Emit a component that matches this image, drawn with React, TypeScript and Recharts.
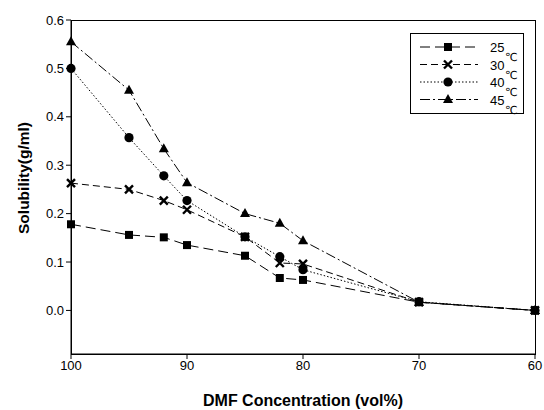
import React from 'react';
import { LineChart, Line, XAxis, YAxis, Legend } from 'recharts';

// DMF concentration (vol%) and solubility (g/ml) per temperature
const concentration = [100, 95, 92, 90, 85, 82, 80, 70, 60];
const sol25 = [0.178, 0.156, 0.151, 0.135, 0.113, 0.067, 0.063, 0.017, 0.0];
const sol30 = [0.263, 0.25, 0.227, 0.208, 0.152, 0.098, 0.096, 0.017, 0.0];
const sol40 = [0.5, 0.357, 0.278, 0.227, 0.152, 0.111, 0.084, 0.018, 0.0];
const sol45 = [0.555, 0.455, 0.334, 0.264, 0.2, 0.18, 0.144, 0.017, 0.0];
const xTicks = [100, 90, 80, 70, 60];
const yTicks = [0, 0.1, 0.2, 0.3, 0.4, 0.5, 0.6];

const data = concentration.map((c, i) => ({
  c,
  t25: sol25[i],
  t30: sol30[i],
  t40: sol40[i],
  t45: sol45[i],
}));

const FONT = '"Liberation Sans", Arial, sans-serif';
const W = 544;
const H = 410;
const M = { top: 20, right: 9, left: 71, bottom: 56 };

const Square = (props: any) => {
  const { cx, cy } = props;
  if (cx == null || cy == null) return null;
  return <rect x={cx - 4} y={cy - 4} width={8} height={8} fill="#000" />;
};
const Cross = (props: any) => {
  const { cx, cy } = props;
  if (cx == null || cy == null) return null;
  return (
    <path d={`M${cx - 4},${cy - 4}L${cx + 4},${cy + 4}M${cx + 4},${cy - 4}L${cx - 4},${cy + 4}`} stroke="#000" strokeWidth={2.4} />
  );
};
const Dot = (props: any) => {
  const { cx, cy } = props;
  if (cx == null || cy == null) return null;
  return <circle cx={cx} cy={cy} r={4.6} fill="#000" />;
};
const Tri = (props: any) => {
  const { cx, cy } = props;
  if (cx == null || cy == null) return null;
  return <path d={`M${cx},${cy - 5.5}L${cx + 5},${cy + 3.5}L${cx - 5},${cy + 3.5}Z`} fill="#000" />;
};

const series = [
  { key: 't25', label: '25', dash: '10 5', Shape: Square },
  { key: 't30', label: '30', dash: '7 4', Shape: Cross },
  { key: 't40', label: '40', dash: '1.5 2', Shape: Dot },
  { key: 't45', label: '45', dash: '10 3 2 3', Shape: Tri },
];

const LegendBox = () => (
  <svg width={115} height={82} style={{ display: 'block' }}>
    <rect x={0.5} y={0.5} width={113} height={80} fill="#fff" stroke="#000" strokeWidth={1} />
    {series.map((s, i) => {
      const y = 14 + i * 17.5;
      const { Shape } = s;
      return (
        <g key={s.key}>
          <line x1={10} x2={68} y1={y} y2={y} stroke="#000" strokeWidth={1} strokeDasharray={s.dash} />
          <Shape cx={38} cy={y} />
          <text x={80} y={y + 5} fontSize={13} fontFamily={FONT} fill="#000">{s.label}</text>
          <text x={95} y={y + 14} fontSize={11} fontFamily='"DejaVu Sans", sans-serif' fill="#000">℃</text>
        </g>
      );
    })}
  </svg>
);

const YTitle = () => (
  <text x={29} y={178} transform="rotate(-90, 29, 178)" textAnchor="middle" fontSize={15.5} fontWeight="bold" fontFamily={FONT} fill="#000">
    Solubility(g/ml)
  </text>
);

export default function App() {
  return (
    <div style={{ position: 'absolute', left: 0, top: 0, width: W, height: H, background: '#fff' }}>
      <LineChart width={W} height={H} data={data} margin={{ top: M.top, right: M.right, left: 0, bottom: 0 }}>
        <XAxis
          dataKey="c"
          type="number"
          domain={[60, 100]}
          reversed
          ticks={xTicks}
          height={M.bottom}
          stroke="#000"
          tickSize={5}
          tick={{ fill: '#000', fontSize: 13, fontFamily: FONT }}
          label={{ value: 'DMF Concentration (vol%)', position: 'insideBottom', offset: 4, fill: '#000', fontSize: 16, fontWeight: 'bold', fontFamily: FONT }}
        />
        <YAxis
          type="number"
          domain={[-0.09, 0.6]}
          ticks={yTicks}
          width={M.left}
          stroke="#000"
          tickSize={5}
          tickFormatter={(v: number) => v.toFixed(1)}
          tick={{ fill: '#000', fontSize: 13, fontFamily: FONT }}
          label={{ content: () => <YTitle /> }}
        />
        <Legend
          layout="horizontal"
          verticalAlign="middle"
          align="center"
          wrapperStyle={{ left: 410, top: 33, width: 115 }}
          content={() => <LegendBox />}
        />
        {series.map((s) => (
          <Line
            key={s.key}
            dataKey={s.key}
            stroke="#000"
            strokeWidth={1}
            strokeDasharray={s.dash}
            dot={<s.Shape />}
            activeDot={false}
            isAnimationActive={false}
          />
        ))}
      </LineChart>
      {/* plot frame */}
      <div
        style={{
          position: 'absolute',
          left: M.left - 0.5,
          top: M.top - 0.5,
          width: W - M.left - M.right + 1,
          height: H - M.top - M.bottom + 1,
          border: '1px solid #000',
          boxSizing: 'border-box',
          pointerEvents: 'none',
          zIndex: 5,
        }}
      />
    </div>
  );
}
